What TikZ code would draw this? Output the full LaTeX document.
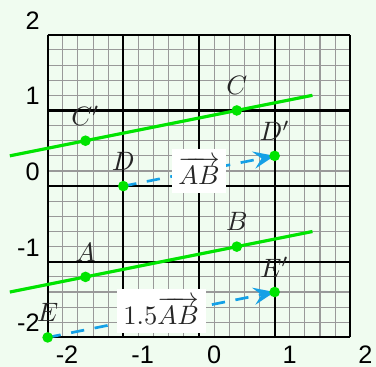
\documentclass[tikz,border=0pt]{standalone}
\usepackage{amsmath}
\usepackage{fontspec}
\usepackage{xcolor}
\usetikzlibrary{arrows.meta,calc}
\newfontfamily\axisfont{Liberation Sans}
\definecolor{paper}{RGB}{240,252,240}
\definecolor{ptgreen}{RGB}{0,228,0}
\definecolor{vecblue}{RGB}{20,160,230}

\begin{document}
\begin{tikzpicture}[x=1cm,y=1cm,
  dot/.style={circle,fill=ptgreen,inner sep=0pt,minimum size=4pt},
  ptname/.style={text=black!85,inner sep=0pt},
  vecline/.style={vecblue,line width=1pt,dash pattern=on 5pt off 4pt,
    -{Stealth[length=8pt,width=6.5pt,inset=3pt]}},
  veclbl/.style={fill=white,text=black!85,inner xsep=2.5pt,inner ysep=3pt},
  axislbl/.style={inner sep=0pt,font=\axisfont\fontsize{9.5}{11}\selectfont}]
\fill[paper] (-2.63,-2.39) rectangle (2.34,2.46);
\useasboundingbox (-2.63,-2.39) rectangle (2.34,2.46);
\draw[black!40,line width=0.4pt,step=0.2] (-2,-2) grid (2,2);
\draw[black,line width=0.8pt,step=1] (-2,-2) grid (2,2);
\coordinate (A) at (-1.5,-1.2);
\coordinate (B) at (0.5,-0.8);
\coordinate (C) at (0.5,1);
\coordinate (Cp) at (-1.5,0.6);
\coordinate (D) at (-1,0);
\coordinate (Dp) at (1,0.4);
\coordinate (E) at (-2,-2);
\coordinate (Ep) at (1,-1.4);
\draw[ptgreen,line width=1.2pt] ($(A)!-0.5!(B)$) -- ($(A)!1.5!(B)$);
\draw[ptgreen,line width=1.2pt] ($(Cp)!-0.5!(C)$) -- ($(Cp)!1.5!(C)$);
\draw[vecline] (D) -- node[veclbl] (ABlbl) {$\overrightarrow{AB}$} (Dp);
\draw[vecline] (E) -- node[veclbl,yshift=0.05cm] (ABlbl2) {$1.5\overrightarrow{AB}$} (Ep);
\foreach \p in {A,B,C,Cp,D,Dp,E,Ep}
  \node[dot] (dot\p) at (\p) {};
\node[ptname] (lA) at ($(A)+(0,0.33)$) {$A$};
\node[ptname] (lB) at ($(B)+(0,0.33)$) {$B$};
\node[ptname] (lC) at ($(C)+(0,0.33)$) {$C$};
\node[ptname] (lCp) at ($(Cp)+(0,0.33)$) {$C'$};
\node[ptname] (lD) at ($(D)+(0,0.33)$) {$D$};
\node[ptname] (lDp) at ($(Dp)+(0,0.33)$) {$D'$};
\node[ptname] (lE) at ($(E)+(0,0.33)$) {$E$};
\node[ptname] (lEp) at ($(Ep)+(0,0.33)$) {$E'$};
\foreach \i in {-2,...,2} {
  \node[axislbl,anchor=west] (xl\i) at (\i+0.1,-2.23) {\i};
  \node[axislbl,anchor=east] (yl\i) at (-2.1,\i+0.19) {\i};
}
\end{tikzpicture}
\end{document}
